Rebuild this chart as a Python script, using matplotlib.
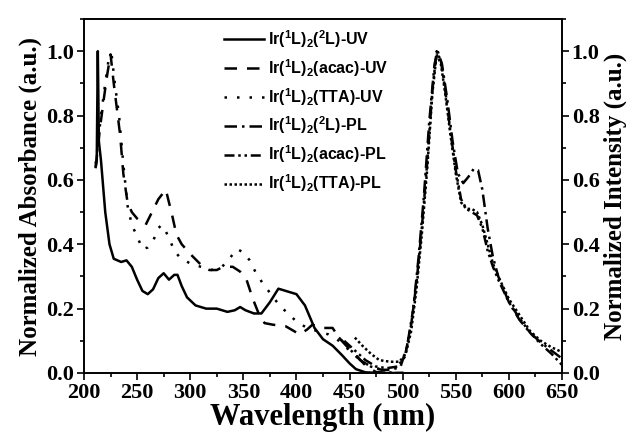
import numpy as np
import matplotlib
matplotlib.use("Agg")
import matplotlib.pyplot as plt
from matplotlib.ticker import MultipleLocator

plt.rcParams['font.family'] = 'Liberation Serif'
plt.rcParams['font.weight'] = 'bold'
plt.rcParams['mathtext.default'] = 'regular'

# UV-Vis absorption (left axis)
uv_2L_x = [211, 212, 213, 214, 216, 220, 224, 228, 235, 240, 245, 250, 255, 260, 265, 270, 275, 280,
           285, 288, 292, 297, 305, 315, 325, 335, 342, 347, 352, 360, 367, 375, 383, 390, 400, 408,
           417, 425, 434, 443, 450, 456, 465, 480, 500]
uv_2L_y = [0.64, 0.66, 1.0, 0.72, 0.66, 0.5, 0.4, 0.355, 0.345, 0.35, 0.33, 0.29, 0.255, 0.245, 0.26,
           0.295, 0.31, 0.29, 0.305, 0.305, 0.27, 0.235, 0.21, 0.2, 0.2, 0.19, 0.195, 0.205, 0.195, 0.185,
           0.185, 0.22, 0.262, 0.255, 0.245, 0.21, 0.14, 0.105, 0.085, 0.055, 0.03, 0.012, 0.002, 0.0, 0.0]

uv_acac_x = [211, 215, 219, 222, 225, 228, 231, 234, 237, 241, 245, 250, 258, 264, 270, 277, 283, 287,
             292, 300, 306, 312, 318, 325, 331, 340, 347, 353, 359, 365, 370, 378, 390, 403, 410, 415,
             425, 434, 440, 447, 456, 466, 475, 490, 500]
uv_acac_y = [0.64, 0.76, 0.86, 0.93, 0.99, 0.9, 0.82, 0.74, 0.62, 0.53, 0.5, 0.48, 0.46, 0.5, 0.54, 0.57,
             0.49, 0.43, 0.4, 0.37, 0.35, 0.33, 0.32, 0.32, 0.33, 0.33, 0.315, 0.29, 0.23, 0.18, 0.155,
             0.15, 0.145, 0.12, 0.135, 0.15, 0.14, 0.14, 0.11, 0.085, 0.055, 0.02, 0.003, 0.0, 0.0]

uv_tta_x = [211, 216, 220, 223, 226, 229, 233, 237, 241, 245, 250, 255, 260, 265, 270, 273, 277, 280,
            285, 290, 300, 310, 320, 330, 338, 344, 350, 356, 362, 368, 376, 384, 392, 400, 410, 420,
            430, 440, 450, 460, 470, 480, 490, 500]
uv_tta_y = [0.65, 0.8, 0.9, 0.97, 0.99, 0.9, 0.8, 0.65, 0.52, 0.46, 0.425, 0.385, 0.39, 0.41, 0.45, 0.46,
            0.44, 0.42, 0.38, 0.36, 0.34, 0.33, 0.32, 0.33, 0.36, 0.385, 0.375, 0.35, 0.31, 0.28, 0.245,
            0.21, 0.185, 0.16, 0.14, 0.13, 0.12, 0.1, 0.07, 0.04, 0.02, 0.01, 0.0, 0.0]

# photoluminescence (right axis)
pl_2L_x = [440, 450, 460, 470, 480, 490, 498, 504, 510, 515, 520, 525, 530, 533, 537, 542, 547, 552,
           557, 562, 567, 571, 575, 580, 585, 590, 600, 610, 620, 630, 640, 650]
pl_2L_y = [0.11, 0.075, 0.04, 0.02, 0.01, 0.01, 0.02, 0.08, 0.2, 0.36, 0.55, 0.78, 0.96, 1.0, 0.96, 0.85,
           0.72, 0.62, 0.59, 0.61, 0.635, 0.63, 0.57, 0.45, 0.36, 0.3, 0.22, 0.165, 0.125, 0.095, 0.07, 0.045]

pl_acac_x = [445, 455, 465, 475, 485, 495, 502, 508, 513, 518, 523, 528, 532, 536, 540, 545, 550, 555,
             560, 565, 570, 575, 580, 585, 590, 600, 610, 620, 630, 640, 650]
pl_acac_y = [0.1, 0.07, 0.04, 0.02, 0.015, 0.02, 0.05, 0.15, 0.28, 0.45, 0.65, 0.88, 1.0, 0.97, 0.88,
             0.75, 0.63, 0.54, 0.51, 0.5, 0.49, 0.45, 0.38, 0.33, 0.29, 0.22, 0.17, 0.125, 0.09, 0.06, 0.025]

pl_tta_x = [455, 462, 470, 478, 488, 497, 503, 508, 513, 518, 523, 528, 532, 536, 540, 545, 550, 555,
            560, 565, 570, 575, 580, 585, 590, 600, 610, 620, 630, 640, 650]
pl_tta_y = [0.11, 0.085, 0.06, 0.04, 0.035, 0.035, 0.06, 0.13, 0.26, 0.43, 0.63, 0.87, 0.99, 0.96, 0.87,
            0.74, 0.62, 0.53, 0.51, 0.51, 0.5, 0.46, 0.4, 0.34, 0.3, 0.23, 0.18, 0.13, 0.1, 0.08, 0.065]

labels = [r'Ir($^1$L)$_2$($^2$L)-UV', r'Ir($^1$L)$_2$(acac)-UV', r'Ir($^1$L)$_2$(TTA)-UV',
          r'Ir($^1$L)$_2$($^2$L)-PL', r'Ir($^1$L)$_2$(acac)-PL', r'Ir($^1$L)$_2$(TTA)-PL']

fig = plt.figure(figsize=(6.35, 4.38), dpi=100)
ax = fig.add_axes([84/635, 1 - 373/438, 478/635, 354/438])
ax2 = ax.twinx()

lw = 1.8
h1, = ax.plot(uv_2L_x, uv_2L_y, 'k-', lw=lw)
h2, = ax.plot(uv_acac_x, uv_acac_y, 'k', lw=lw, dashes=(5, 4))
h3, = ax.plot(uv_tta_x, uv_tta_y, 'k', lw=lw, dashes=(1, 4))
h4, = ax2.plot(pl_2L_x, pl_2L_y, 'k', lw=lw, dashes=(5, 2, 1, 2))
h5, = ax2.plot(pl_acac_x, pl_acac_y, 'k', lw=lw, dashes=(4, 1.5, 1, 1.5, 1, 1.5))
h6, = ax2.plot(pl_tta_x, pl_tta_y, 'k', lw=lw, dashes=(1, 1))

for a in (ax, ax2):
    a.set_ylim(0, 1.1)
    a.yaxis.set_major_locator(MultipleLocator(0.2))
    a.yaxis.set_minor_locator(MultipleLocator(0.1))
    a.tick_params(which='major', direction='out', length=5, width=1.2, labelsize=16)
    a.tick_params(which='minor', direction='out', length=3, width=1.2)
    for s in a.spines.values():
        s.set_linewidth(1.2)
ax.set_xlim(200, 650)
ax.xaxis.set_major_locator(MultipleLocator(50))
ax.xaxis.set_minor_locator(MultipleLocator(25))
ax.tick_params(axis='x', pad=2)
ax.tick_params(axis='y', pad=2)
ax2.tick_params(axis='y', pad=2)

ax.set_xlabel('Wavelength (nm)', fontsize=22, fontweight='bold', labelpad=0)
ax.set_ylabel('Normalized Absorbance (a.u.)', fontsize=18, fontweight='bold', labelpad=3)
ax2.set_ylabel('Normalized Intensity (a.u.)', fontsize=18, fontweight='bold', labelpad=3)

ax2.legend([h1, h2, h3, h4, h5, h6], labels, loc='upper left', bbox_to_anchor=(0.262, 1.015),
           frameon=False, handlelength=2.5, handletextpad=0.25, labelspacing=0.45,
           prop={'family': 'Liberation Sans', 'weight': 'bold', 'size': 11.5})

fig.savefig('out.png', dpi=100)
